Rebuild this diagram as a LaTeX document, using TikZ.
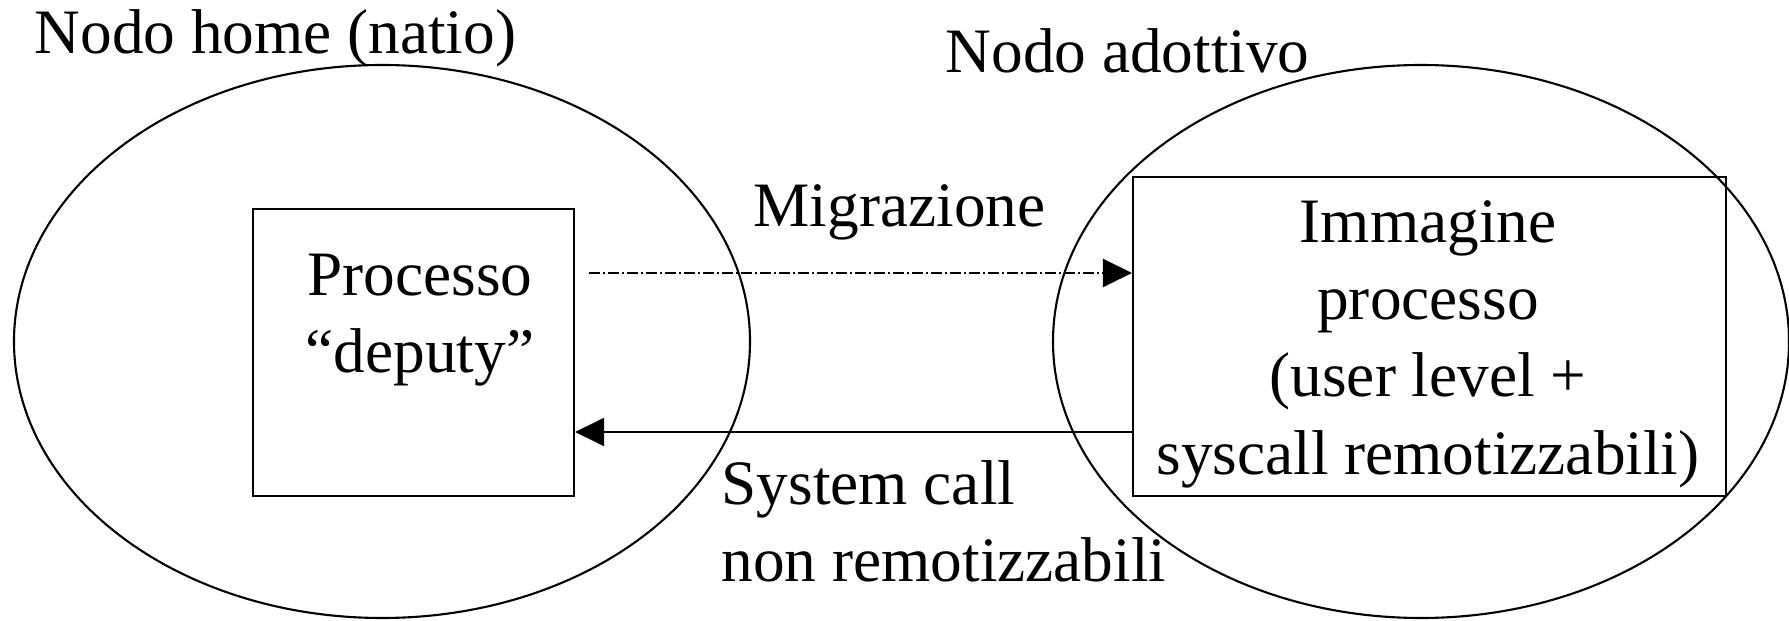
\documentclass[tikz,border=0pt]{standalone}
\usepackage{fontspec}
\setmainfont{Liberation Serif}
\usetikzlibrary{shapes.geometric,arrows.meta}
\tikzset{
  nodo/.style={draw, ellipse, line width=0.6pt, inner sep=0pt, minimum width=73.6mm, minimum height=55.3mm},
  proc/.style={draw, line width=0.6pt, inner sep=0pt, align=center},
  lbl/.style={inner sep=0pt, align=left, font=\fontsize{18}{22}\selectfont},
  migr/.style={line width=0.6pt, dash pattern=on 1.1mm off 0.3mm on 0.2mm off 0.3mm, -{Triangle[length=2.9mm,width=2.8mm]}},
  sysc/.style={line width=0.6pt, -{Triangle[length=2.9mm,width=2.8mm]}},
}

\begin{document}
\begin{tikzpicture}[x=0.1mm,y=-0.1mm, font=\fontsize{18}{22}\selectfont]
  \useasboundingbox (0,0) rectangle (1789,621);
  \node[nodo] (home) at (382,341.5) {};
  \node[nodo] (adot) at (1421,341.5) {};
  \node[lbl, anchor=west] (homel) at (34,38) {Nodo home (natio)};
  \node[lbl, anchor=west] (adotl) at (945,51) {Nodo adottivo};
  % processi
  \node[proc, minimum width=32.1mm, minimum height=28.7mm] (dep) at (413.5,352.5) {};
  \node[lbl, align=center] (depl) at (420,320) {Processo\\“deputy”};
  \node[proc, minimum width=59.3mm, minimum height=31.9mm] (imm) at (1429.5,336.5) {};
  \node[lbl, align=center] (imml) at (1428,344) {Immagine\\processo\\(user level +\\syscall remotizzabili)};
  % frecce
  \coordinate (migy) at (589,273);
  \coordinate (sysy) at (0,432);
  \draw[migr] (migy) -- (imm.west |- migy);
  \draw[sysc] (imm.west |- sysy) -- (dep.east |- sysy);
  \node[lbl, anchor=west] (migl) at (753,212) {Migrazione};
  \node[lbl, anchor=north west] (sysl) at (721,460) {System call\\non remotizzabili};
\end{tikzpicture}
\end{document}
